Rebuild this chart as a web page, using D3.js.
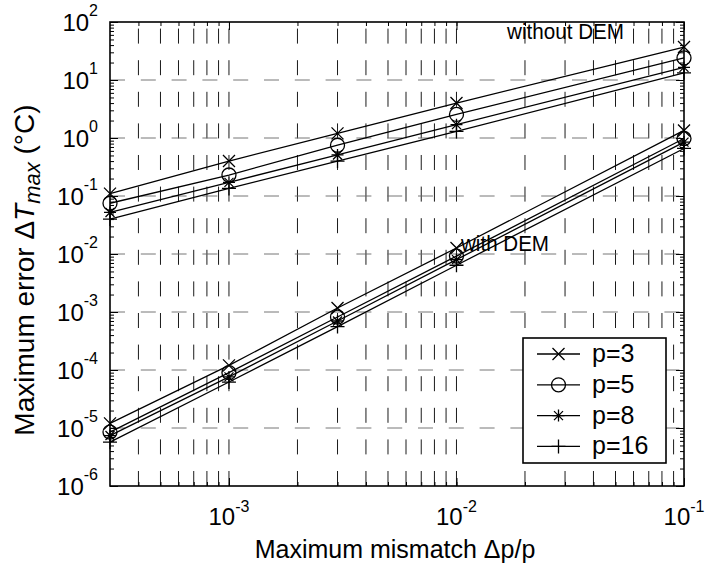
<!DOCTYPE html>
<html>
<head>
<meta charset="utf-8">
<script src="https://cdn.jsdelivr.net/npm/d3@7"></script>
<style>
  body { margin: 0; background: #fff; }
  svg { font-family: "Liberation Sans", Arial, sans-serif; }
</style>
</head>
<body>
<svg id="chart" width="705" height="570"></svg>
<script>
// mismatch values (x) shared by all series
const mismatch = [3e-4, 1e-3, 3e-3, 1e-2, 1e-1];

// without DEM
const noDemP3 = [0.11, 0.40, 1.2, 4.0, 37];
const noDemP5 = [0.075, 0.23, 0.75, 2.55, 24];
const noDemP8 = [0.052, 0.172, 0.51, 1.7, 16.5];
const noDemP16 = [0.040, 0.135, 0.40, 1.3, 13.3];

// with DEM
const demP3 = [1.2e-5, 1.2e-4, 1.17e-3, 1.27e-2, 1.35];
const demP5 = [8.5e-6, 9e-5, 8.2e-4, 9.2e-3, 0.98];
const demP8 = [7.4e-6, 7.6e-5, 7e-4, 8e-3, 0.85];
const demP16 = [5.7e-6, 6.2e-5, 5.6e-4, 6.4e-3, 0.66];

const legendLabels = ["p=3", "p=5", "p=8", "p=16"];
const markerKinds = ["x", "o", "star", "plus"];
const xTickExps = [-3, -2, -1];
const yTickExps = [-6, -5, -4, -3, -2, -1, 0, 1, 2];

const svg = d3.select("#chart");
const pLeft = 110, pRight = 684, pTop = 22, pBottom = 486;

const x = d3.scaleLog().domain([3e-4, 1e-1]).range([pLeft, pRight]);
const y = d3.scaleLog().domain([1e-6, 1e2]).range([pBottom, pTop]);

// minor positions for ticks / grid
const xMinor = [];
for (let e = -4; e <= -2; e++)
  for (let k = 1; k <= 9; k++) {
    const v = k * Math.pow(10, e);
    if (v > 3e-4 * 1.0001 && v < 0.1 * 0.9999) xMinor.push(v);
  }
const yMinor = [];
for (let e = -6; e <= 1; e++)
  for (let k = 2; k <= 9; k++) yMinor.push(k * Math.pow(10, e));

// grid
const grid = svg.append("g").attr("stroke", "#000").attr("stroke-width", 0.9).attr("fill", "none");
grid.selectAll(".vg").data(xMinor).enter().append("line")
  .attr("x1", d => x(d)).attr("x2", d => x(d))
  .attr("y1", pBottom).attr("y2", pTop)
  .attr("stroke-dasharray", "15,16.6");
grid.selectAll(".hg").data(yTickExps.slice(1, -1)).enter().append("line")
  .attr("x1", pLeft).attr("x2", pRight)
  .attr("y1", d => y(Math.pow(10, d))).attr("y2", d => y(Math.pow(10, d)))
  .attr("stroke", "#666")
  .attr("stroke-dasharray", "15,15.8");

// ticks via d3 axes (inward)
const xMajorVals = xTickExps.map(e => Math.pow(10, e));
const yMajorVals = yTickExps.map(e => Math.pow(10, e));
function tickAxis(axis, tr) {
  const g = svg.append("g").attr("transform", tr).call(axis);
  g.select(".domain").remove();
  g.selectAll("text").remove();
  g.selectAll("line").attr("stroke", "#000").attr("stroke-width", 1);
}
tickAxis(d3.axisBottom(x).tickValues(xMinor).tickSize(-4), `translate(0,${pBottom})`);
tickAxis(d3.axisBottom(x).tickValues(xMajorVals).tickSize(-8), `translate(0,${pBottom})`);
tickAxis(d3.axisTop(x).tickValues(xMinor).tickSize(-4), `translate(0,${pTop})`);
tickAxis(d3.axisTop(x).tickValues(xMajorVals).tickSize(-8), `translate(0,${pTop})`);
tickAxis(d3.axisLeft(y).tickValues(yMinor).tickSize(-4), `translate(${pLeft},0)`);
tickAxis(d3.axisLeft(y).tickValues(yMajorVals).tickSize(-8), `translate(${pLeft},0)`);
tickAxis(d3.axisRight(y).tickValues(yMinor).tickSize(-4), `translate(${pRight},0)`);
tickAxis(d3.axisRight(y).tickValues(yMajorVals).tickSize(-8), `translate(${pRight},0)`);

// box
svg.append("rect").attr("x", pLeft).attr("y", pTop)
  .attr("width", pRight - pLeft).attr("height", pBottom - pTop)
  .attr("fill", "none").attr("stroke", "#000").attr("stroke-width", 1.6);

// tick labels with superscripts
function powLabel(g, e, raise) {
  g.append("tspan").text("10");
  g.append("tspan").attr("font-size", 16).attr("dy", -raise).text(e < 0 ? "-" + (-e) : e);
}
yTickExps.forEach(e => {
  const t = svg.append("text").attr("x", 98).attr("y", y(Math.pow(10, e)) + 9)
    .attr("text-anchor", "end").attr("font-size", 24);
  powLabel(t, e, 15);
});
xTickExps.forEach(e => {
  const t = svg.append("text").attr("x", x(Math.pow(10, e))).attr("y", 525)
    .attr("text-anchor", "middle").attr("font-size", 24);
  powLabel(t, e, 13);
});

// marker shapes
function markerPath(kind) {
  if (kind === "x") return "M-6,-6L6,6M-6,6L6,-6";
  if (kind === "plus") return "M-7,0H7M0,-7V7";
  if (kind === "star") return "M-6,0H6M0,-6V6M-4.5,-4.5L4.5,4.5M-4.5,4.5L4.5,-4.5";
  return null;
}
function drawMarker(g, kind, cx, cy) {
  if (kind === "o") {
    g.append("circle").attr("cx", cx).attr("cy", cy).attr("r", 7)
      .attr("fill", "none").attr("stroke", "#000").attr("stroke-width", 1.3);
  } else {
    g.append("path").attr("transform", `translate(${cx},${cy})`).attr("d", markerPath(kind))
      .attr("fill", "none").attr("stroke", "#000").attr("stroke-width", 1.3);
  }
}

const groups = [
  [noDemP3, noDemP5, noDemP8, noDemP16],
  [demP3, demP5, demP8, demP16]
];
const line = d3.line().x(d => x(d[0])).y(d => y(d[1]));
const plot = svg.append("g");
groups.forEach(grp => {
  grp.forEach((vals, i) => {
    const pts = mismatch.map((m, j) => [m, vals[j]]);
    plot.append("path").attr("d", line(pts))
      .attr("fill", "none").attr("stroke", "#000").attr("stroke-width", 1.3);
    pts.forEach(p => drawMarker(plot, markerKinds[i], x(p[0]), y(p[1])));
  });
});

// annotations
svg.append("text").attr("x", 507).attr("y", 39).attr("font-size", 21.5)
  .attr("textLength", 117).attr("lengthAdjust", "spacingAndGlyphs").text("without DEM");
svg.append("text").attr("x", 461).attr("y", 251).attr("font-size", 21.5)
  .attr("textLength", 88).attr("lengthAdjust", "spacingAndGlyphs").text("with DEM");

// legend
const lg = svg.append("g");
lg.append("rect").attr("x", 523).attr("y", 338).attr("width", 143).attr("height", 125)
  .attr("fill", "#fff").attr("stroke", "#000").attr("stroke-width", 1.6);
legendLabels.forEach((lab, i) => {
  const ly = 354 + i * 30.8;
  lg.append("line").attr("x1", 537).attr("x2", 580).attr("y1", ly).attr("y2", ly)
    .attr("stroke", "#000").attr("stroke-width", 1.3);
  drawMarker(lg, markerKinds[i], 558.5, ly);
  lg.append("text").attr("x", 592).attr("y", ly + 8).attr("font-size", 25).text(lab);
});

// axis titles
svg.append("text").attr("x", 395).attr("y", 558).attr("text-anchor", "middle")
  .attr("font-size", 25).text("Maximum mismatch \u0394p/p");
const yt = svg.append("text").attr("transform", "translate(34,270) rotate(-90)")
  .attr("text-anchor", "middle").attr("font-size", 28);
yt.append("tspan").text("Maximum error \u0394");
yt.append("tspan").attr("font-style", "italic").text("T");
yt.append("tspan").attr("font-style", "italic").attr("font-size", 22).attr("dy", 6).text("max");
yt.append("tspan").attr("dy", -6).text(" (\u00b0C)");
</script>
</body>
</html>
